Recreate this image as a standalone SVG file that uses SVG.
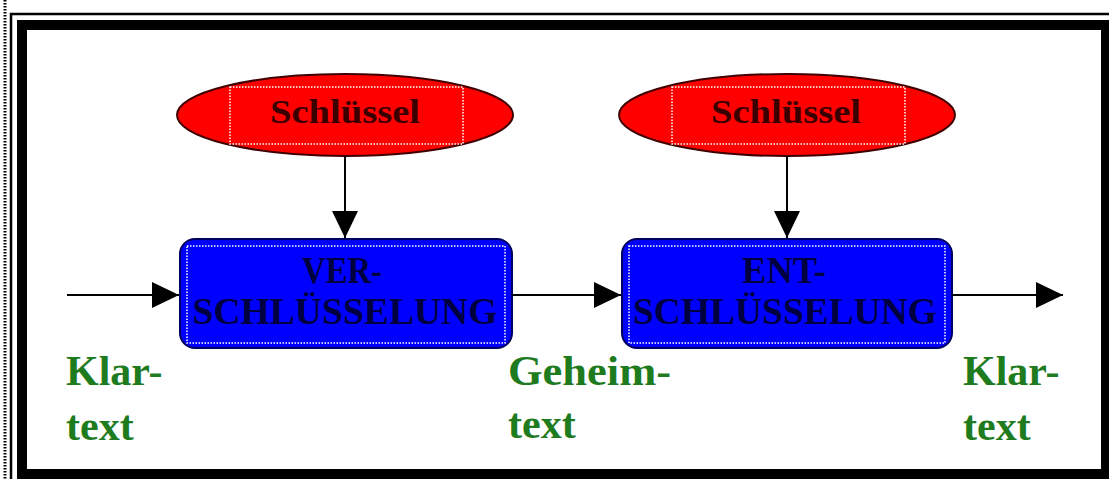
<svg xmlns="http://www.w3.org/2000/svg" width="1109" height="479" viewBox="0 0 1109 479">
<defs>
<marker id="ah" markerWidth="28" markerHeight="26" refX="27" refY="13" orient="auto" markerUnits="userSpaceOnUse">
<path d="M0,0 L27,13 L0,26 Z" fill="#000"/>
</marker>
<style>
.key{fill:#ff0000;stroke:#400000;stroke-width:2}
.box{fill:#0000ff;stroke:#000060;stroke-width:2}
.dot{fill:none;stroke:#ffffff;stroke-width:1.5;stroke-dasharray:1.5 1.5}
.kt{font-family:"Liberation Serif",serif;font-weight:bold;font-size:34px;fill:#3a0000;text-anchor:middle}
.bt{font-family:"Liberation Serif",serif;font-weight:bold;font-size:37px;fill:#000040;text-anchor:middle}
.gt{font-family:"Liberation Serif",serif;font-weight:bold;font-size:42px;fill:#1e7b1e}
.conn{stroke:#000;stroke-width:2;fill:none}
</style>
</defs>
<rect width="1109" height="479" fill="#fff"/>
<line x1="5" y1="0" x2="5" y2="479" stroke="#000" stroke-width="3" stroke-dasharray="1.5 1.5"/>
<rect x="11" y="14" width="1110" height="480" fill="none" stroke="#000" stroke-width="2.5"/>
<rect x="17" y="20" width="1100" height="470" fill="#000"/>
<rect x="27" y="30" width="1074" height="439" fill="#fff"/>

<g id="key1">
<ellipse class="key" cx="345" cy="115" rx="168" ry="41"/>
<rect class="dot" x="230" y="87" width="233" height="57"/>
<text class="kt" x="345" y="123" textLength="150" lengthAdjust="spacingAndGlyphs">Schlüssel</text>
</g>
<g id="key2">
<ellipse class="key" cx="787" cy="115" rx="168" ry="41"/>
<rect class="dot" x="672" y="87" width="233" height="57"/>
<text class="kt" x="786" y="123" textLength="150" lengthAdjust="spacingAndGlyphs">Schlüssel</text>
</g>
<g id="enc">
<rect class="box" x="180" y="239" width="332" height="109" rx="15"/>
<rect class="dot" x="187" y="246" width="318" height="97"/>
<text class="bt" x="342" y="283" textLength="80" lengthAdjust="spacingAndGlyphs">VER-</text>
<text class="bt" x="345" y="324" textLength="305" lengthAdjust="spacingAndGlyphs">SCHLÜSSELUNG</text>
</g>
<g id="dec">
<rect class="box" x="622" y="239" width="330" height="109" rx="15"/>
<rect class="dot" x="629" y="246" width="316" height="97"/>
<text class="bt" x="784" y="283" textLength="84" lengthAdjust="spacingAndGlyphs">ENT-</text>
<text class="bt" x="785" y="324" textLength="304" lengthAdjust="spacingAndGlyphs">SCHLÜSSELUNG</text>
</g>
<g id="labels">
<text class="gt" x="66" y="385">Klar-</text>
<text class="gt" x="66" y="440">text</text>
<text class="gt" x="508" y="385" textLength="163" lengthAdjust="spacingAndGlyphs">Geheim-</text>
<text class="gt" x="508" y="438">text</text>
<text class="gt" x="963" y="385">Klar-</text>
<text class="gt" x="963" y="440">text</text>
</g>
<g id="connectors">
<line class="conn" x1="345" y1="156" x2="345" y2="238" marker-end="url(#ah)"/>
<line class="conn" x1="787" y1="156" x2="787" y2="238" marker-end="url(#ah)"/>
<line class="conn" x1="67" y1="295" x2="179" y2="295" marker-end="url(#ah)"/>
<line class="conn" x1="512" y1="295" x2="621" y2="295" marker-end="url(#ah)"/>
<line class="conn" x1="952" y1="295" x2="1063" y2="295" marker-end="url(#ah)"/>
</g>
</svg>
